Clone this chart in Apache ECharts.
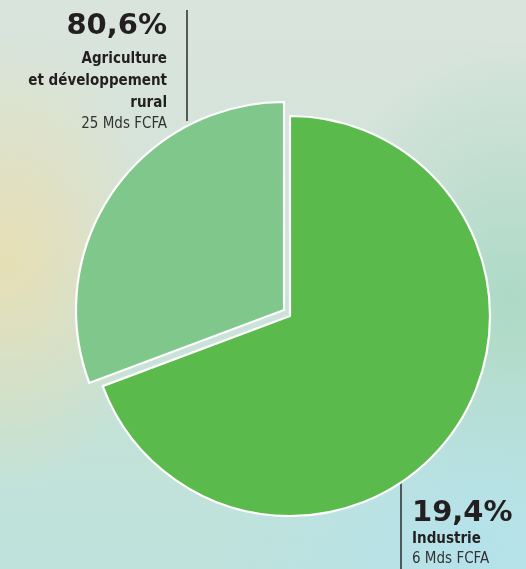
<!DOCTYPE html>
<html>
<head>
<meta charset="utf-8">
<script src="https://cdn.jsdelivr.net/npm/echarts@6/dist/echarts.min.js"></script>
<style>
	html, body {
		margin: 0;
		padding: 0;
	}
	#chart {
		width: 526px;
		height: 569px;
		background:
			radial-gradient(ellipse 150px 230px at 10px 260px, rgba(236, 222, 172, 0.8), rgba(236, 222, 172, 0) 100%),
			radial-gradient(ellipse 260px 200px at 480px 550px, rgba(180, 226, 236, 0.95), rgba(180, 226, 236, 0) 100%),
			radial-gradient(ellipse 200px 260px at 510px 300px, rgba(168, 216, 196, 0.85), rgba(168, 216, 196, 0) 100%),
			linear-gradient(180deg, #d9e4dd 0%, #d3e3d9 40%, #c3e2d8 75%, #bee2dc 100%);
	}
</style>
</head>
<body>
<div id="chart"></div>
<script>
	// parts du budget (la taille des parts suit le dessin de l'original)
	const sectors = ['Industrie', 'Agriculture et développement rural'];
	const sliceShares = [69.3, 30.7];
	const percentLabels = ['19,4%', '80,6%'];
	const amountLabels = ['6 Mds FCFA', '25 Mds FCFA'];
	const colors = ['#5aba4b', '#80c78b'];

	const chart = echarts.init(document.getElementById('chart'), null, { renderer: 'canvas' });

	const font = "'DejaVu Sans Condensed', 'DejaVu Sans', sans-serif";
	const bigFont = "'DejaVu Sans', sans-serif";
	const hidden = { color: 'transparent', borderWidth: 0 };

	// une série par part, pour décaler la part claire
	const makeSeries = (idx, center, radius) => ({
		type: 'pie',
		center: center,
		radius: radius,
		startAngle: 90,
		clockwise: true,
		silent: true,
		animation: false,
		label: { show: false },
		labelLine: { show: false },
		data: sliceShares.map((v, i) => ({
			name: sectors[i],
			value: v,
			itemStyle: i === idx
				? { color: colors[i], borderColor: '#fff', borderWidth: 2.2 }
				: hidden,
		})),
	});

	const textBlock = (x, y, text, size, weight, align, color, family) => ({
		type: 'text',
		x: x,
		y: y,
		style: {
			text: text,
			font: `${weight} ${size}px ${family || font}`,
			fill: color,
			align: align,
			verticalAlign: 'bottom',
		},
	});

	chart.setOption({
		series: [
			makeSeries(0, [290, 316], 200),
			makeSeries(1, [284, 310], 208),
		],
		graphic: [
			{ type: 'line', shape: { x1: 187, y1: 10, x2: 187, y2: 121 }, style: { stroke: '#2b2b2b', lineWidth: 1.5 } },
			textBlock(167, 41, percentLabels[1], 29, 'bold', 'right', '#231f20', bigFont),
			textBlock(167, 67, 'Agriculture', 15, 'bold', 'right', '#231f20'),
			textBlock(167, 89, 'et développement', 15, 'bold', 'right', '#231f20'),
			textBlock(167, 111, 'rural', 15, 'bold', 'right', '#231f20'),
			textBlock(167, 132, amountLabels[1], 15, 'normal', 'right', '#333'),

			{ type: 'line', shape: { x1: 401, y1: 475, x2: 401, y2: 569 }, style: { stroke: '#2b2b2b', lineWidth: 1.5 } },
			textBlock(412, 528, percentLabels[0], 29, 'bold', 'left', '#231f20', bigFont),
			textBlock(412, 547, sectors[0], 15, 'bold', 'left', '#231f20'),
			textBlock(412, 567, amountLabels[0], 15, 'normal', 'left', '#333'),
		],
	});
</script>
</body>
</html>
